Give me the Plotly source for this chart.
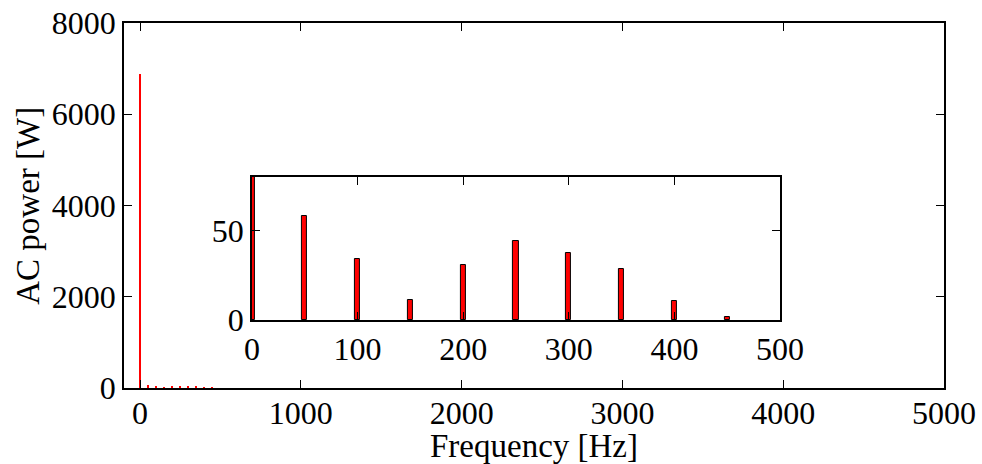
import plotly.graph_objects as go

# Harmonic spectrum of the AC power (Hz -> W)
freq_hz = [0, 50, 100, 150, 200, 250, 300, 350, 400, 450]
power_w = [6880, 58, 34.3, 11.2, 30.7, 44, 37.6, 28.7, 10.8, 1.5]

main_xticks = [0, 1000, 2000, 3000, 4000, 5000]
main_yticks = [0, 2000, 4000, 6000, 8000]
inset_xticks = [0, 100, 200, 300, 400, 500]
inset_yticks = [0, 50]

FONT = "Liberation Serif"
FS_TICK = 32
FS_TITLE = 33

fig = go.Figure()

# Full-range spectrum
fig.add_trace(go.Bar(
    x=freq_hz, y=power_w, width=[10] * len(freq_hz),
    marker=dict(color="#ff0000", line=dict(width=0)),
    xaxis="x", yaxis="y", showlegend=False,
))

# Zoomed view of the first harmonics
fig.add_trace(go.Bar(
    x=freq_hz, y=power_w, width=[5] * len(freq_hz),
    marker=dict(color="#ff0000", line=dict(color="black", width=1)),
    xaxis="x2", yaxis="y2", showlegend=False,
))

axis_common = dict(
    showgrid=False, zeroline=False, showline=True, linecolor="black",
    linewidth=1.5, mirror="ticks", ticks="inside", ticklen=8,
    tickcolor="black", tickwidth=1, automargin=False,
    tickfont=dict(family=FONT, size=FS_TICK, color="black"),
)

title_font = dict(family=FONT, size=FS_TITLE, color="black")

fig.update_layout(
    width=982, height=464,
    margin=dict(l=124, r=38, t=23, b=76),
    paper_bgcolor="white", plot_bgcolor="white",
    bargap=0,
    xaxis=dict(range=[-100, 5000], tickvals=main_xticks, domain=[0, 1],
               anchor="y", ticklabelstandoff=-4, **axis_common),
    yaxis=dict(range=[0, 8000], tickvals=main_yticks, domain=[0, 1],
               anchor="x", **axis_common),
    xaxis2=dict(range=[0, 500], tickvals=inset_xticks, domain=[0.156, 0.8],
                anchor="y2", **axis_common),
    yaxis2=dict(range=[0, 80], tickvals=inset_yticks, domain=[0.186, 0.578],
                anchor="x2", **axis_common),
    shapes=[dict(
        type="rect", xref="paper", yref="paper",
        x0=0.156, x1=0.8, y0=0.186, y1=0.578,
        fillcolor="white", line=dict(width=0), layer="below",
    )],
    annotations=[
        dict(text="Frequency [Hz]", xref="paper", yref="paper",
             x=0.5, y=-0.159, xanchor="center", yanchor="middle",
             showarrow=False, font=title_font),
        dict(text="AC power [W]", xref="paper", yref="paper",
             x=-0.118, y=0.5, xanchor="center", yanchor="middle",
             textangle=-90, showarrow=False, font=title_font),
    ],
)

fig.write_html("out.html")
